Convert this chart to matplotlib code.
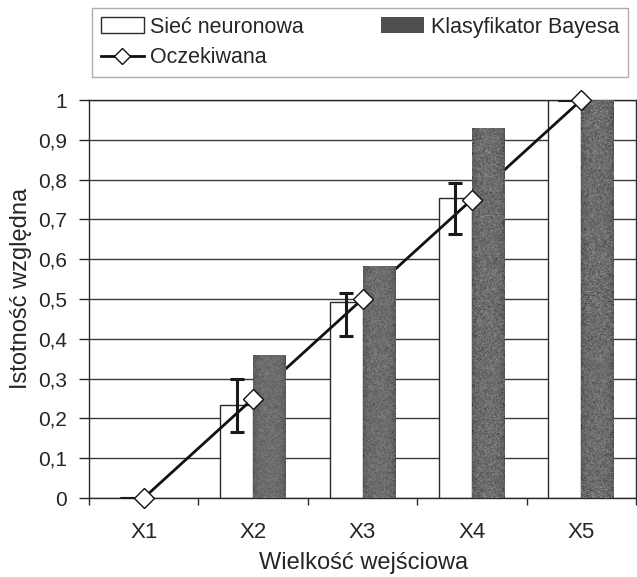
import numpy as np
import matplotlib
matplotlib.use("Agg")
import matplotlib.pyplot as plt
from matplotlib.patches import Patch
from matplotlib.lines import Line2D

plt.rcParams['font.family'] = ['Liberation Sans', 'DejaVu Sans']

categories = ["X1", "X2", "X3", "X4", "X5"]
siec = [0.0, 0.233, 0.493, 0.755, 1.0]
bayes = [0.0, 0.359, 0.584, 0.930, 1.0]
oczekiwana = [0.0, 0.25, 0.5, 0.75, 1.0]
err_lower = [0.0, 0.066, 0.085, 0.092, 0.0]
err_upper = [0.0, 0.067, 0.023, 0.036, 0.0]
yticks = [0, 0.1, 0.2, 0.3, 0.4, 0.5, 0.6, 0.7, 0.8, 0.9, 1]
ytick_labels = ["0", "0,1", "0,2", "0,3", "0,4", "0,5", "0,6", "0,7", "0,8", "0,9", "1"]

W, H = 637, 577
fig = plt.figure(figsize=(W / 100, H / 100), dpi=100)
ax = fig.add_axes([89 / W, 1 - 498 / H, (636 - 89) / W, (498 - 100) / H])

x = np.arange(len(categories))
bw = 0.30
ink = "#2a2a2a"
text_col = "#262626"

# grid behind everything
ax.set_ylim(0, 1)
ax.set_xlim(-0.5, len(categories) - 0.5)
ax.set_yticks(yticks)
ax.set_yticklabels(ytick_labels)
ax.yaxis.grid(True, color="#3a3a3a", linewidth=1.0)
ax.set_axisbelow(True)

# white bars (neural network)
white = ax.bar(x - bw / 2, siec, width=bw, color="white", edgecolor=ink,
               linewidth=1.0, zorder=2)
for rect in white:
    if rect.get_height() <= 0:
        rect.set_linewidth(0)

# expected line sits between the two bar series
ax.plot(x, oczekiwana, color="#111111", linewidth=2.0, zorder=3)

# grainy dark bars (Bayes classifier)
dark = ax.bar(x + bw / 2, bayes, width=bw, color="#5c5e5e",
              edgecolor="none", zorder=4)
rng = np.random.default_rng(7)
grain = np.clip(rng.normal(0.43, 0.09, (400, 60)), 0, 1)
for rect in dark:
    if rect.get_height() <= 0:
        continue
    x0, w, h = rect.get_x(), rect.get_width(), rect.get_height()
    cols = np.linspace(-1, 1, grain.shape[1])
    shade = grain - 0.08 * cols[None, :] ** 4
    im = ax.imshow(shade, cmap="gray", vmin=0, vmax=1, aspect="auto",
                   extent=(x0, x0 + w, 0, h), zorder=4.5,
                   interpolation="bilinear")
    im.set_clip_path(rect)

# error bars on the neural-network bars
ax.errorbar(x - bw / 2, siec, yerr=[err_lower, err_upper], fmt="none",
            ecolor="#1a1a1a", elinewidth=2.2, capsize=5, capthick=2.2,
            zorder=5)

# diamond markers on top
ax.plot(x, oczekiwana, linestyle="none", marker="D", markersize=10,
        markerfacecolor="white", markeredgecolor="#111111",
        markeredgewidth=1.0, zorder=6, clip_on=False)

# axes styling
for s in ax.spines.values():
    s.set_color(ink)
    s.set_linewidth(1.0)
ax.set_xticks(x)
ax.set_xticklabels(categories)
ax.set_xticks(np.arange(-0.5, len(categories)), minor=True)
ax.tick_params(axis="x", which="major", length=0, pad=17, labelsize=16,
               colors=text_col)
ax.tick_params(axis="x", which="minor", length=5, width=1, colors=ink)
ax.tick_params(axis="y", length=7, width=1, pad=9, labelsize=15,
               colors=text_col)
for lab in ax.get_xticklabels() + ax.get_yticklabels():
    lab.set_color(text_col)

fig.text(364 / W, 1 - 563 / H, "Wielkość wejściowa", ha="center",
         va="center", fontsize=17, color=text_col)
fig.text(21 / W, 1 - 288 / H, "Istotność względna", ha="center",
         va="center", rotation=90, fontsize=17, color=text_col)

# legend
h_siec = Patch(facecolor="white", edgecolor=ink, linewidth=1.0)
h_bayes = Patch(facecolor="#4e5050", edgecolor="none")
h_ocz = Line2D([], [], color="#111111", linewidth=2.0, marker="D",
               markersize=8, markerfacecolor="white",
               markeredgecolor="#111111")
leg = fig.legend([h_siec, h_ocz, h_bayes],
                 ["Sieć neuronowa", "Oczekiwana", "Klasyfikator Bayesa"],
                 ncol=2, loc="upper left",
                 bbox_to_anchor=(92 / W, 1 - 8 / H),
                 fontsize=15.5, frameon=True, fancybox=False,
                 edgecolor="#9a9a9a", handlelength=2.0, handleheight=0.75,
                 handletextpad=0.3, labelspacing=0.45, borderpad=0.4,
                 columnspacing=3.6, borderaxespad=0)
leg.get_frame().set_linewidth(1.0)
for t in leg.get_texts():
    t.set_color(text_col)

fig.savefig("out.png", dpi=100, facecolor="white")
